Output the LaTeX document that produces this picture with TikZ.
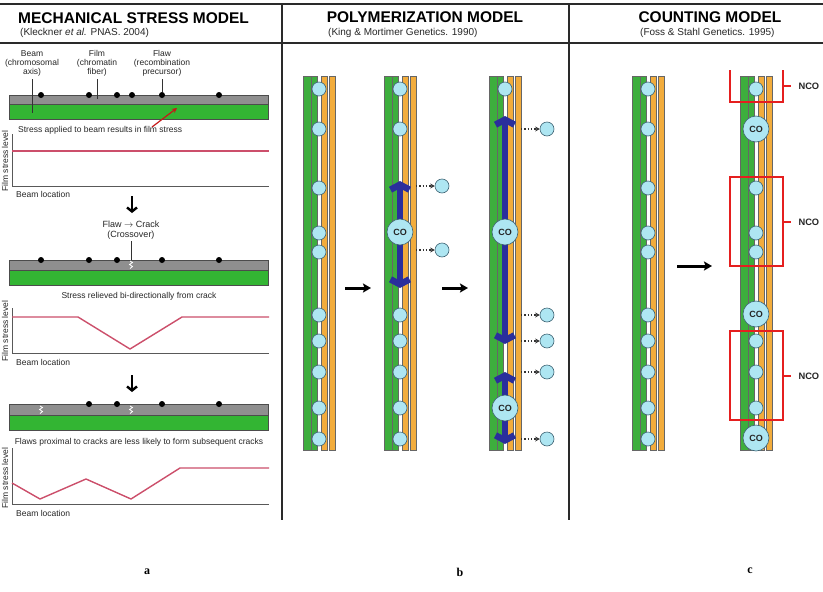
\documentclass[tikz,border=0pt]{standalone}
\usepackage{fontspec}
\setmainfont{Liberation Sans}
\newfontfamily\serifb{Liberation Serif}
\usetikzlibrary{arrows.meta}
\definecolor{chgreen}{HTML}{3DAE3D}
\definecolor{chorange}{HTML}{F2AC3C}
\definecolor{cyanlt}{HTML}{AEE6F2}
\definecolor{cydark}{HTML}{3F6474}
\definecolor{beamgray}{HTML}{8F8F8F}
\definecolor{beamgreen}{HTML}{33B533}
\definecolor{stresspink}{HTML}{CC4F6B}
\definecolor{navy}{HTML}{2A2E9C}
\definecolor{boxred}{HTML}{E51F1F}
\definecolor{framegray}{HTML}{2A2A2A}
\tikzset{
  strandline/.style={draw=black!60, line width=0.5pt},
  foci/.style={circle, fill=cyanlt, draw=cydark, line width=0.6pt, minimum size=14pt, inner sep=0pt},
  cobig/.style={circle, fill=cyanlt, draw=cydark, line width=0.6pt, minimum size=26pt, inner sep=0pt, font=\fontsize{9}{9}\selectfont\bfseries, text=black!85},
  dotarrow/.style={dotted, line width=1.3pt, draw=black!80, -{Stealth[length=4.5pt,width=5pt]}},
  bluearrow/.style={line width=6.5pt, draw=navy, {Straight Barb[length=5pt,width=19pt]}-{Straight Barb[length=5pt,width=19pt]}},
  stepper/.style={line width=3pt, -{Stealth[length=8pt,width=9pt,inset=1.5pt]}},
  downarr/.style={line width=2.4pt, -{Straight Barb[length=4pt,width=10pt]}},
  nco/.style={draw=boxred, line width=2.2pt},
  ncotext/.style={font=\fontsize{9.3}{9}\selectfont\bfseries, anchor=west, text=black!85},
  smalltxt/.style={font=\fontsize{8.5}{9}\selectfont, text=black!85, align=center, inner sep=0pt},
  axisline/.style={draw=black!65, line width=1pt},
  stresscurve/.style={draw=stresspink, line width=1.4pt, line join=round},
  title/.style={font=\fontsize{15.5}{16}\selectfont\bfseries, inner sep=0pt},
  subtitle/.style={font=\fontsize{10}{10}\selectfont, text=black!85, inner sep=0pt},
  framel/.style={draw=framegray, line width=1.4pt},
  beamdot/.style={circle, fill=black, inner sep=0pt, minimum size=6pt},
}
\newcommand{\chrom}[1]{%
  \begin{scope}[shift={(#1,0)}]
    \fill[white] (0,76) rectangle (32,450);
    \draw[strandline, fill=chgreen] (0,76) rectangle (8,450);
    \draw[strandline, fill=chgreen] (8.5,76) rectangle (14,450);
    \draw[strandline, fill=chorange] (18.5,76) rectangle (24.5,450);
    \draw[strandline, fill=chorange] (26,76) rectangle (32,450);
  \end{scope}}
\newcommand{\crackmark}[2]{%
  \draw[white, line width=0.8pt] ({#1-1},{#2-4}) -- ({#1+1.5},{#2-2.5}) -- ({#1-1.5},{#2-0.5}) -- ({#1+1.5},{#2+1.5}) -- ({#1-1},{#2+3.5});}
\begin{document}
\begin{tikzpicture}[x=1pt, y=-1pt]
\useasboundingbox (0,0) rectangle (823,592);
\fill[white] (0,0) rectangle (823,592);

% frame
\draw[framel] (0,4) -- (823,4);
\draw[framel] (0,43) -- (823,43);
\draw[framel] (282,4) -- (282,520);
\draw[framel] (569,4) -- (569,520);

% headers
\node[title, anchor=west] (t1) at (18,18) {MECHANICAL STRESS MODEL};
\node[subtitle, anchor=west] (s1) at (20,33) {(Kleckner \textit{et al.} PNAS. 2004)};
\node[title] (t2) at (425,17) {POLYMERIZATION MODEL};
\node[subtitle, anchor=west] (s2) at (328,33) {(King \& Mortimer Genetics. 1990)};
\node[title] (t3) at (710,17) {COUNTING MODEL};
\node[subtitle, anchor=west] (s3) at (640,33) {(Foss \& Stahl Genetics. 1995)};

% ---------------- panel a ----------------
\node[smalltxt] (lbeam) at (32,63) {Beam\\(chromosomal\\axis)};
\node[smalltxt] (lfilm) at (97,63) {Film\\(chromatin\\fiber)};
\node[smalltxt] (lflaw) at (162,63) {Flaw\\(recombination\\precursor)};

% stage 1 bar
\fill[beamgray, draw=black!70, line width=0.5pt] (9,95) rectangle (268,104);
\fill[beamgreen, draw=black!70, line width=0.5pt] (9,104) rectangle (268,119);
\foreach \xx/\nm in {41/a1,89/a2,117/a3,132/a4,162/a5,219/a6}
  \node[beamdot] (\nm) at (\xx,95) {};
\coordinate (beampt) at (32,113);
\coordinate (filmpt) at (97,99);
\draw[black!80, line width=0.6pt] (lbeam.south) ++(0,3) -- (beampt);
\draw[black!80, line width=0.6pt] (lfilm.south) ++(0,3) -- (filmpt);
\draw[black!80, line width=0.6pt] (lflaw.south) ++(0,3) -- (a5);
\coordinate (rarA) at (152,127);
\coordinate (rarB) at (177,108);
\draw[draw=red!75!black!90, line width=1.2pt, -{Stealth[length=5pt,width=5pt]}] (rarA) -- (rarB);
\node[smalltxt, anchor=west] (cap1) at (18,130) {Stress applied to beam results in film stress};
\draw[axisline] (12,134) -- (12,186) -- (269,186);
\draw[stresscurve] (12,151) -- (269,151);
\node[smalltxt, rotate=90] (yl1) at (5,161) {Film stress level};
\node[smalltxt, anchor=west] (xl1) at (16,194) {Beam location};

\coordinate (d1a) at (132,196);
\coordinate (d1b) at (132,213);
\draw[downarr] (d1a) -- (d1b);

% stage 2
\node[smalltxt, font=\fontsize{9}{9.5}\selectfont] (lcrack) at (131,230) {Flaw $\rightarrow$ Crack\\(Crossover)};
\fill[beamgray, draw=black!70, line width=0.5pt] (9,260) rectangle (268,270);
\fill[beamgreen, draw=black!70, line width=0.5pt] (9,270) rectangle (268,285);
\foreach \xx/\nm in {41/b1,89/b2,117/b3,162/b5,219/b6}
  \node[beamdot] (\nm) at (\xx,260) {};
\coordinate (crk2) at (131,260);
\draw[black!80, line width=0.6pt] (lcrack.south) ++(0,2) -- (crk2);
\crackmark{131}{265}
\node[smalltxt] (cap2) at (139,296) {Stress relieved bi-directionally from crack};
\draw[axisline] (12,308) -- (12,353) -- (269,353);
\draw[stresscurve] (12,317) -- (78,317) -- (130,349) -- (182,317) -- (269,317);
\node[smalltxt, rotate=90] (yl2) at (5,331) {Film stress level};
\node[smalltxt, anchor=west] (xl2) at (16,362) {Beam location};

\coordinate (d2a) at (132,375);
\coordinate (d2b) at (132,392);
\draw[downarr] (d2a) -- (d2b);

% stage 3
\fill[beamgray, draw=black!70, line width=0.5pt] (9,404) rectangle (268,415);
\fill[beamgreen, draw=black!70, line width=0.5pt] (9,415) rectangle (268,430);
\foreach \xx/\nm in {89/c2,117/c3,162/c5,219/c6}
  \node[beamdot] (\nm) at (\xx,404) {};
\crackmark{41}{410}
\crackmark{131}{410}
\node[smalltxt] (cap3) at (139,442) {Flaws proximal to cracks are less likely to form subsequent cracks};
\draw[axisline] (12,448) -- (12,504) -- (269,504);
\draw[stresscurve] (12,483) -- (40,499) -- (86,479) -- (131,499) -- (180,468) -- (269,468);
\node[smalltxt, rotate=90] (yl3) at (5,478) {Film stress level};
\node[smalltxt, anchor=west] (xl3) at (16,513) {Beam location};

% ---------------- panel b ----------------
\chrom{303}
\chrom{384}
\chrom{489}

% chromosome 1 foci
\foreach \yy [count=\i] in {89,129,188,233,252,315,341,372,408,439}
  \node[foci] (p1f\i) at (319,\yy) {};

% chromosome 2
\coordinate (b2top) at (400,181);
\coordinate (b2bot) at (400,288);
\draw[bluearrow] (b2top) -- (b2bot);
\foreach \yy [count=\i] in {89,129,315,341,372,408,439}
  \node[foci] (p2f\i) at (400,\yy) {};
\node[cobig] (p2co) at (400,232) {CO};
\node[foci] (p2s1) at (442,186) {};
\node[foci] (p2s2) at (442,250) {};
\coordinate (p2o1) at (416,186);
\coordinate (p2o2) at (416,250);
\draw[dotarrow] (p2o1) -- (p2s1);
\draw[dotarrow] (p2o2) -- (p2s2);

% chromosome 3
\coordinate (b3top) at (505,116);
\coordinate (b3bot) at (505,344);
\draw[bluearrow] (b3top) -- (b3bot);
\coordinate (b3top2) at (505,372);
\coordinate (b3bot2) at (505,444);
\draw[bluearrow] (b3top2) -- (b3bot2);
\node[foci] (p3f1) at (505,89) {};
\node[cobig] (p3co1) at (505,232) {CO};
\node[cobig] (p3co2) at (505,408) {CO};
\foreach \yy [count=\i] in {129,315,341,372,439} {
  \node[foci] (p3s\i) at (547,\yy) {};
  \coordinate (p3o\i) at (521,\yy);
  \draw[dotarrow] (p3o\i) -- (p3s\i);
}

% step arrows
\coordinate (sa1) at (345,288);
\coordinate (sa2) at (371,288);
\draw[stepper] (sa1) -- (sa2);
\coordinate (sb1) at (442,288);
\coordinate (sb2) at (468,288);
\draw[stepper] (sb1) -- (sb2);

% ---------------- panel c ----------------
\chrom{632}
\chrom{740}
\foreach \yy [count=\i] in {89,129,188,233,252,315,341,372,408,439}
  \node[foci] (p4f\i) at (648,\yy) {};
\coordinate (sc1) at (677,266);
\coordinate (sc2) at (712,266);
\draw[stepper] (sc1) -- (sc2);

\foreach \yy [count=\i] in {89,188,233,252,341,372,408}
  \node[foci] (p5f\i) at (756,\yy) {};
\node[cobig] (p5co1) at (756,129) {CO};
\node[cobig] (p5co2) at (756,314) {CO};
\node[cobig] (p5co3) at (756,438) {CO};

% NCO boxes
\draw[nco] (730,70) -- (730,102) -- (783,102) -- (783,70);
\draw[nco] (783,86) -- (791,86);
\node[ncotext] (n1) at (795,86) {NCO};
\draw[nco] (730,177) rectangle (783,266);
\draw[nco] (783,222) -- (791,222);
\node[ncotext] (n2) at (795,222) {NCO};
\draw[nco] (730,331) rectangle (783,420);
\draw[nco] (783,376) -- (791,376);
\node[ncotext] (n3) at (795,376) {NCO};

% panel letters
\node[font=\serifb\fontsize{12}{12}\selectfont\bfseries] (la) at (147,572) {a};
\node[font=\serifb\fontsize{12}{12}\selectfont\bfseries] (lb) at (460,572) {b};
\node[font=\serifb\fontsize{12}{12}\selectfont\bfseries] (lc) at (750,571) {c};
\end{tikzpicture}
\end{document}
